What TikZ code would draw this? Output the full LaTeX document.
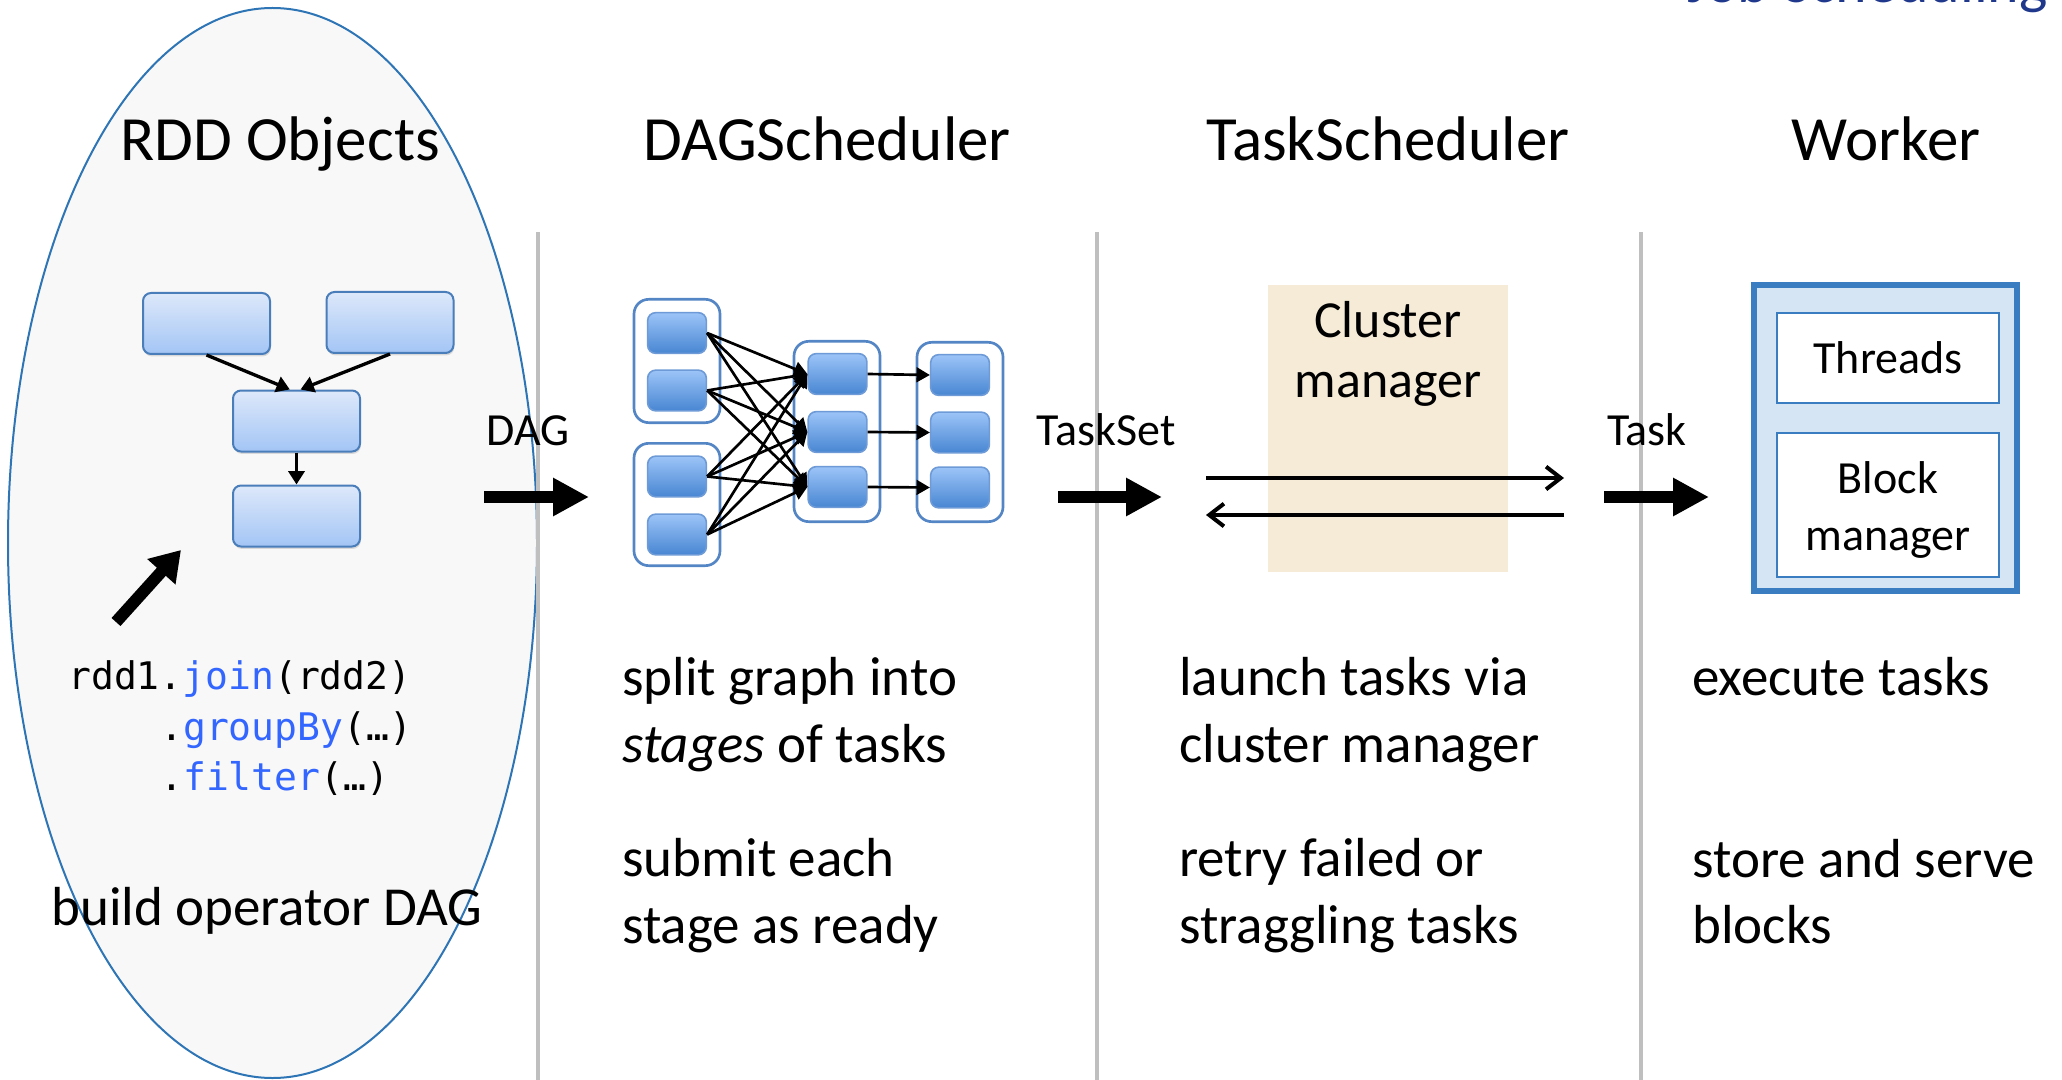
\documentclass[tikz,border=0pt]{standalone}
\usepackage{fontspec}
\setmainfont{Carlito}
\setmonofont{DejaVu Sans Mono}
\usetikzlibrary{arrows.meta,shadows}

\definecolor{cloudfill}{RGB}{249,248,248}
\definecolor{cloudline}{RGB}{46,117,182}
\definecolor{sepgrey}{RGB}{191,191,191}
\definecolor{rddtop}{RGB}{221,232,250}
\definecolor{rddbot}{RGB}{163,197,245}
\definecolor{rddline}{RGB}{74,126,187}
\definecolor{tasktop}{RGB}{156,196,248}
\definecolor{taskbot}{RGB}{72,134,210}
\definecolor{taskline}{RGB}{110,155,215}
\definecolor{stageline}{RGB}{84,133,196}
\definecolor{clusterfill}{RGB}{245,235,215}
\definecolor{workerfill}{RGB}{214,229,243}
\definecolor{workerline}{RGB}{58,125,192}
\definecolor{codeblue}{RGB}{51,102,255}
\definecolor{titleblue}{RGB}{32,56,140}

\begin{document}
\begin{tikzpicture}[x=0.75pt,y=0.75pt,yscale=-1,xscale=1,
  headtxt/.style={font=\fontsize{47.25}{56}\selectfont, anchor=base, inner sep=0pt},
  bodytxt/.style={font=\fontsize{41.25}{50}\selectfont, anchor=base west, inner sep=0pt},
  lbltxt/.style={font=\fontsize{34.5}{42}\selectfont, anchor=base, inner sep=0pt},
  codetxt/.style={font=\ttfamily\fontsize{28.5}{37.5}\selectfont, anchor=base west, inner sep=0pt},
  rddbox/.style={draw=rddline, line width=1.5pt, rounded corners=6pt, top color=rddtop, bottom color=rddbot,
    minimum width=95.25pt, minimum height=45.75pt, inner sep=0pt,
    drop shadow={shadow xshift=0.6pt, shadow yshift=-1.8pt, opacity=0.25}},
  stagegrp/.style={draw=stageline, line width=2pt, fill=white, rounded corners=11pt, minimum width=64.5pt, inner sep=0pt},
  taskbox/.style={draw=taskline, line width=1.2pt, rounded corners=6pt, top color=tasktop, bottom color=taskbot,
    minimum width=44pt, minimum height=30.5pt, inner sep=0pt},
  workerpart/.style={draw=workerline, line width=1.8pt, fill=white, minimum width=166.5pt, align=center,
    font=\fontsize{34.5}{42.75}\selectfont, inner sep=0pt},
  rddarrow/.style={line width=2.5pt, -{Triangle[length=10pt,width=12pt]}},
  stagearrow/.style={line width=2pt, -{Triangle[length=10pt,width=11pt]}},
  blockarrow/.style={line width=9pt, -{Triangle[length=27pt,width=27pt]}},
  msgarrow/.style={line width=3pt, -{Straight Barb[length=11pt,width=17pt]}},
  sepline/.style={draw=sepgrey, line width=3pt}
]
\useasboundingbox (0,0) rectangle (2062,1080);

%Shape: Ellipse [id:rddCloud]
\draw[draw=cloudline, line width=1.5pt, fill=cloudfill] (272.5,543) ellipse [x radius=264.5, y radius=535];

%Straight Lines [id:sepA]
\draw[sepline] (538,232) -- (538,1080);
%Straight Lines [id:sepB]
\draw[sepline] (1097,232) -- (1097,1080);
%Straight Lines [id:sepC]
\draw[sepline] (1641,232) -- (1641,1080);

% Text Node
\node[font=\fontsize{45}{54}\selectfont, text=titleblue, anchor=base east, inner sep=0pt] (jobTitle) at (2048,3) {Job Scheduling};

% Text Node
\node[headtxt] (hdRdd) at (280,161) {RDD Objects};
% Text Node
\node[headtxt] (hdDag) at (827,161) {DAGScheduler};
% Text Node
\node[headtxt] (hdTask) at (1388,161) {TaskScheduler};
% Text Node
\node[headtxt] (hdWorker) at (1886,161) {Worker};

%Shape: Rounded Rect [id:rddA]
\node[rddbox] (rddA) at (206.5,323.5) {};
%Shape: Rounded Rect [id:rddB]
\node[rddbox] (rddB) at (390,322.5) {};
%Shape: Rounded Rect [id:rddC]
\node[rddbox] (rddC) at (296.5,421) {};
%Shape: Rounded Rect [id:rddD]
\node[rddbox] (rddD) at (296.5,516) {};

%Straight Lines [id:rddAC]
\draw[rddarrow] (rddA.south) -- ([xshift=-5pt]rddC.north);
%Straight Lines [id:rddBC]
\draw[rddarrow] (rddB.south) -- ([xshift=3pt]rddC.north);
%Straight Lines [id:rddCD]
\draw[rddarrow] (rddC.south) -- (rddD.north);

%Straight Lines [id:codeArrow]
\coordinate (codeTail) at (116,622);
\coordinate (codeTip) at (181,550);
\draw[line width=9pt, -{Triangle[length=22pt,width=27pt]}] (codeTail) -- (codeTip);

% Text Node
\node[codetxt] (code1) at (68,689) {rdd1.\textcolor{codeblue}{join}(rdd2)};
% Text Node
\node[codetxt] (code2) at (160,740) {.\textcolor{codeblue}{groupBy}(…)};
% Text Node
\node[codetxt] (code3) at (160,790) {.\textcolor{codeblue}{filter}(…)};

% Text Node
\node[bodytxt] (buildTxt) at (51,925) {build operator DAG};

% Text Node
\node[lbltxt] (dagLbl) at (528,445) {DAG};
%Straight Lines [id:dagArrow]
\coordinate (dagFrom) at (484,497);
\coordinate (dagTo) at (589,497);
\draw[blockarrow] (dagFrom) -- (dagTo);

%Shape: Rounded Rect [id:stage groups]
\node[stagegrp, minimum height=92.5pt] (grpA) at (677,361) {};
\node[stagegrp, minimum height=91.75pt] (grpB) at (677,504.5) {};
\node[stagegrp, minimum height=135.25pt] (grpC) at (837,431.5) {};
\node[stagegrp, minimum height=134.5pt] (grpD) at (960,432) {};

%Shape: Rounded Rect [id:tasks]
\node[taskbox] (tA1) at (677,333) {};
\node[taskbox] (tA2) at (677,390.5) {};
\node[taskbox] (tB1) at (677,476.5) {};
\node[taskbox] (tB2) at (677,534.5) {};
\node[taskbox] (tC1) at (837.5,374) {};
\node[taskbox] (tC2) at (837.5,432) {};
\node[taskbox] (tC3) at (837.5,487) {};
\node[taskbox] (tD1) at (960,375) {};
\node[taskbox] (tD2) at (960,432.5) {};
\node[taskbox] (tD3) at (960,487.5) {};

%Straight Lines [id:shuffle]
\draw[stagearrow] (tA1.east) -- (tC1.west);
\draw[stagearrow] (tA1.east) -- (tC2.west);
\draw[stagearrow] (tA1.east) -- (tC3.west);
\draw[stagearrow] (tA2.east) -- (tC1.west);
\draw[stagearrow] (tA2.east) -- (tC2.west);
\draw[stagearrow] (tA2.east) -- (tC3.west);
\draw[stagearrow] (tB1.east) -- (tC1.west);
\draw[stagearrow] (tB1.east) -- (tC2.west);
\draw[stagearrow] (tB1.east) -- (tC3.west);
\draw[stagearrow] (tB2.east) -- (tC1.west);
\draw[stagearrow] (tB2.east) -- (tC2.west);
\draw[stagearrow] (tB2.east) -- (tC3.west);
%Straight Lines [id:pipeline]
\draw[stagearrow] (tC1.east) -- (tD1.west);
\draw[stagearrow] (tC2.east) -- (tD2.west);
\draw[stagearrow] (tC3.east) -- (tD3.west);

% Text Node
\node[lbltxt] (tasksetLbl) at (1106,445) {TaskSet};
%Straight Lines [id:tasksetArrow]
\coordinate (tsFrom) at (1058,497);
\coordinate (tsTo) at (1162,497);
\draw[blockarrow] (tsFrom) -- (tsTo);

%Shape: Rectangle [id:clusterBox]
\node[fill=clusterfill, minimum width=180pt, minimum height=215.25pt, inner sep=0pt] (cluster) at (1388,428.5) {};
% Text Node
\node[font=\fontsize{39}{45}\selectfont, align=center, anchor=north, inner sep=0pt] (clusterLbl) at (1388,301) {Cluster\\manager};

%Straight Lines [id:launch]
\coordinate (cmL1) at (1206,478);
\coordinate (cmR1) at (1564,478);
\coordinate (cmL2) at (1206,515);
\coordinate (cmR2) at (1564,515);
\draw[msgarrow] (cmL1) -- (cmR1);
\draw[msgarrow] (cmR2) -- (cmL2);

% Text Node
\node[lbltxt] (taskLbl) at (1647,445) {Task};
%Straight Lines [id:taskArrow]
\coordinate (tkFrom) at (1604,497);
\coordinate (tkTo) at (1709,497);
\draw[blockarrow] (tkFrom) -- (tkTo);

%Shape: Rectangle [id:worker]
\node[draw=workerline, line width=4.5pt, fill=workerfill, minimum width=197.25pt, minimum height=229.5pt, inner sep=0pt] (worker) at (1885,438) {};
\node[workerpart, minimum height=67.5pt] (threads) at (1888,358) {Threads};
\node[workerpart, minimum height=108pt] (blockMgr) at (1888,505) {\rule{0pt}{31pt}Block\\manager};

% Text Node
\node[bodytxt] (dagTxtA) at (622,695) {split graph into};
\node[bodytxt] (dagTxtB) at (622,762) {\textit{stages} of tasks};
\node[bodytxt] (dagTxtC) at (622,876) {submit each};
\node[bodytxt] (dagTxtD) at (622,943) {stage as ready};
% Text Node
\node[bodytxt] (tsTxtA) at (1179,695) {launch tasks via};
\node[bodytxt] (tsTxtB) at (1179,762) {cluster manager};
\node[bodytxt] (tsTxtC) at (1179,876) {retry failed or};
\node[bodytxt] (tsTxtD) at (1179,943) {straggling tasks};
% Text Node
\node[bodytxt] (wkTxtA) at (1692,695) {execute tasks};
\node[bodytxt] (wkTxtB) at (1692,877) {store and serve};
\node[bodytxt] (wkTxtC) at (1692,943) {blocks};

\end{tikzpicture}
\end{document}
